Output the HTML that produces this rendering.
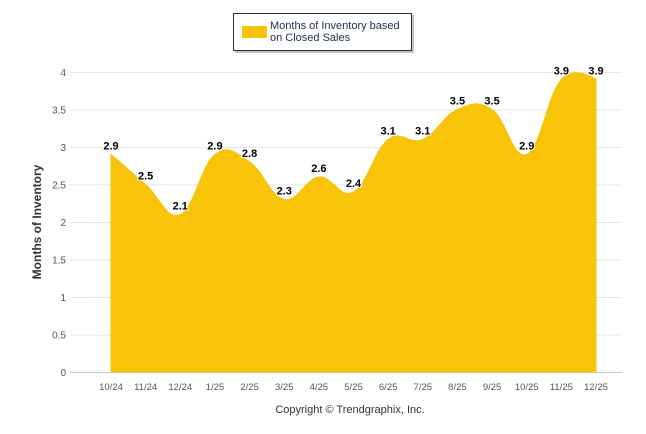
<!DOCTYPE html>
<html><head><meta charset="utf-8">
<style>
body{margin:0;background:#fff;}
svg{display:block;font-family:"Liberation Sans",Arial,sans-serif;}
</style></head>
<body>
<svg id="chart" width="646" height="434" viewBox="0 0 646 434" xmlns="http://www.w3.org/2000/svg">
  <g id="grid"></g>
  <g id="yticks"></g>
  <path id="area" fill="#F7C40A" stroke="#F7C40A" stroke-width="1"></path>
  <g id="labels"></g>
  <g id="xticks"></g>
  <text x="0" y="0" transform="translate(41,222) rotate(-90)" text-anchor="middle" font-size="12" font-weight="bold" fill="#333">Months of Inventory</text>
  <text x="350" y="413" text-anchor="middle" font-size="11" fill="#333">Copyright © Trendgraphix, Inc.</text>
  <g>
    <rect x="235" y="15" width="179" height="38" fill="#888" opacity="0.5"/>
    <rect x="233.5" y="13.5" width="178" height="37" fill="#fff" stroke="#1f3150" stroke-width="1"/>
    <rect x="242" y="26" width="25" height="12" fill="#F7C40A"/>
    <text x="270" y="29" font-size="11" fill="#1f3150">Months of Inventory based</text>
    <text x="270" y="41" font-size="11" fill="#1f3150">on Closed Sales</text>
  </g>
</svg>
<script>
const categories = ["10/24","11/24","12/24","1/25","2/25","3/25","4/25","5/25","6/25","7/25","8/25","9/25","10/25","11/25","12/25"];
const values = [2.9,2.5,2.1,2.9,2.8,2.3,2.6,2.4,3.1,3.1,3.5,3.5,2.9,3.9,3.9];
const yTicks = [0,0.5,1,1.5,2,2.5,3,3.5,4];

const NS="http://www.w3.org/2000/svg";
const x0=111, x1=596, y0=372, yTop=72, yMax=4;
const xs=i=>x0+(x1-x0)*i/(categories.length-1);
const ys=v=>y0-(y0-yTop)*v/yMax;
function mk(tag,attrs,parent,txt){const e=document.createElementNS(NS,tag);for(const k in attrs)e.setAttribute(k,attrs[k]);if(txt!==undefined)e.textContent=txt;parent.appendChild(e);return e;}

const grid=document.getElementById('grid'), yt=document.getElementById('yticks');
yTicks.forEach(t=>{
  const g=mk('line',{x1:70,x2:622,y1:ys(t)+0.5,y2:ys(t)+0.5,stroke:t===0?'#ccc':'#e6e6e6','stroke-width':1},grid);
  
  
  const l=mk('text',{x:66,y:ys(t)+4,'text-anchor':'end','font-size':10,fill:'#555'},yt,String(t));
  
  
});
const xt=document.getElementById('xticks');
categories.forEach((c,i)=>{
  const l=mk('text',{x:xs(i),y:390,'text-anchor':'middle','font-size':9.5,fill:'#555'},xt,c);
  
  
});

const pts=values.map((v,i)=>[xs(i),ys(v)]);
let d=`M${pts[0][0]},${y0} L${pts[0][0]},${pts[0][1]}`;
const sm=1.5,den=2.5;
function ctrl(i){
  const p=pts[i],pr=pts[i-1],nx=pts[i+1];
  if(!pr||!nx) return [p[0],p[1],p[0],p[1]];
  let lx=(sm*p[0]+pr[0])/den, ly=(sm*p[1]+pr[1])/den;
  let rx=(sm*p[0]+nx[0])/den, ry=(sm*p[1]+nx[1])/den;
  if(rx!==lx){const c=(ry-ly)/(rx-lx); ly=p[1]+c*(lx-p[0]); ry=p[1]+c*(rx-p[0]);}
  return [lx,ly,rx,ry];
}
for(let i=1;i<pts.length;i++){
  const a=ctrl(i-1), b=ctrl(i);
  d+=` C${a[2]},${a[3]} ${b[0]},${b[1]} ${pts[i][0]},${pts[i][1]}`;
}
d+=` L${pts[pts.length-1][0]},${y0} Z`;
document.getElementById('area').setAttribute('d',d);

const lab=document.getElementById('labels');
values.forEach((v,i)=>{
  const t=mk('text',{x:xs(i),y:ys(v)-5,'text-anchor':'middle','font-size':11,'font-weight':'bold',fill:'#000',stroke:'#fff','stroke-width':2,'paint-order':'stroke'},lab,v.toFixed(1));
  
  
});
</script>
</body></html>
